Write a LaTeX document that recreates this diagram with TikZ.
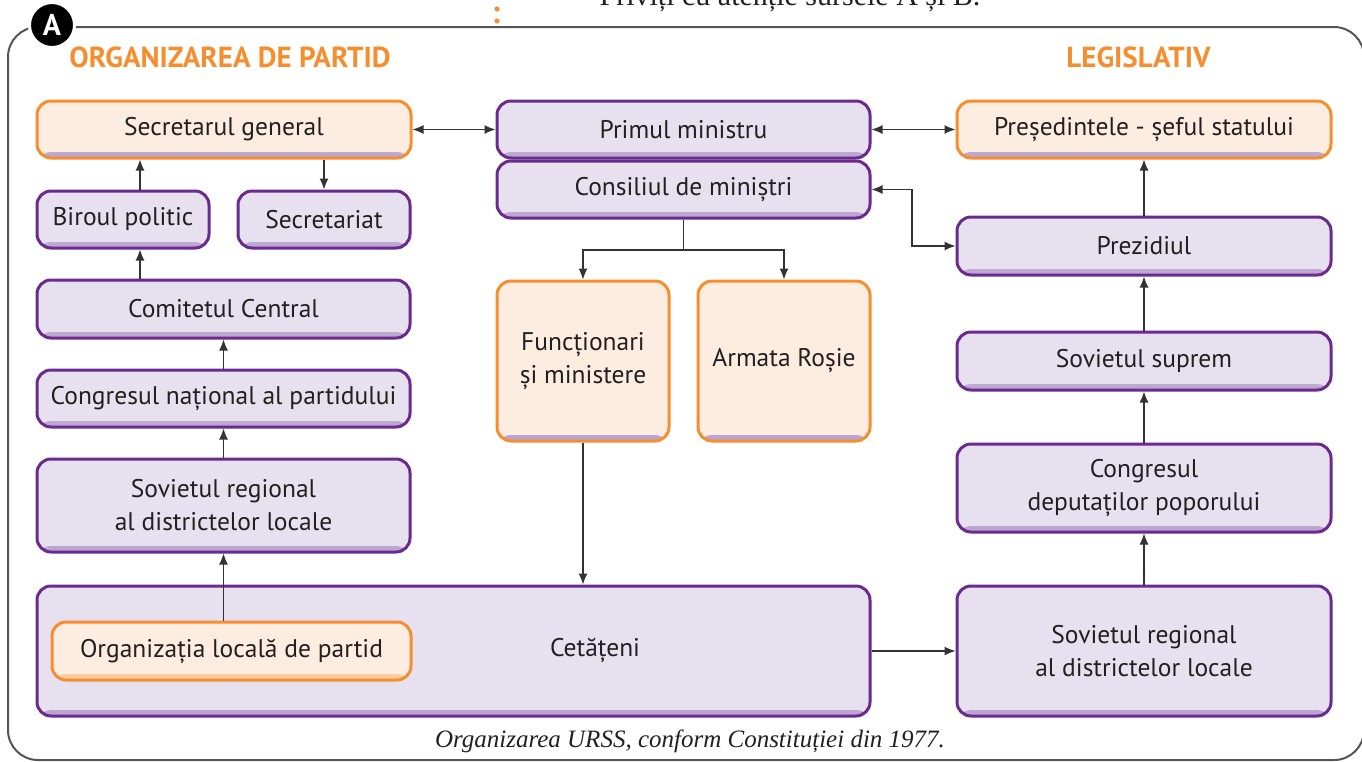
\documentclass[tikz,border=0pt]{standalone}
\usepackage{fontspec}
\setmainfont{PT Sans}
\newfontfamily\capfont{Liberation Serif}
\usetikzlibrary{arrows.meta}
\definecolor{pur}{HTML}{6A2A8E}
\definecolor{purfill}{HTML}{E7E1EF}
\definecolor{org}{HTML}{F68E2F}
\definecolor{orgfill}{HTML}{FDEDE1}
\definecolor{band}{HTML}{B9A2CF}
\definecolor{orgband}{HTML}{FBC79A}
\definecolor{txt}{HTML}{231F20}
\definecolor{lin}{HTML}{333333}
\definecolor{frm}{HTML}{555555}
\tikzset{
  bandpic/.style={path picture={\shade[top color=#1!20, bottom color=#1] ([yshift=6pt]path picture bounding box.south west) rectangle (path picture bounding box.south east);}},
  boxbase/.style={rounded corners=14pt, line width=3pt, inner sep=0pt, align=center, text=txt, font=\fontsize{25.5}{33}\selectfont},
  pbox/.style={boxbase, draw=pur, fill=purfill, bandpic=band},
  obox/.style={boxbase, draw=org, fill=orgfill, bandpic=band},
  obox2/.style={boxbase, draw=org, fill=orgfill, bandpic=orgband},
  hdr/.style={text=org, font=\fontsize{29}{32}\selectfont\bfseries},
  arr/.style={draw=lin, line width=1.2pt, -{Latex[length=11pt,width=9pt]}},
  arrb/.style={draw=lin, line width=1.2pt, {Latex[length=11pt,width=9pt]}-{Latex[length=11pt,width=9pt]}},
  ln/.style={draw=lin, line width=1.2pt},
}
\begin{document}
\begin{tikzpicture}[x=1pt,y=-1pt]
\useasboundingbox (0,0) rectangle (1362,761);
\clip (0,0) rectangle (1362,761);
% frame
\draw[frm, line width=2pt, rounded corners=30pt] (8,27) rectangle (1364,760);
\node[circle, fill=black, draw=white, line width=3pt, minimum size=45pt, inner sep=0pt, text=white, font=\fontsize{30}{32}\selectfont\bfseries] (lblA) at (52,25) {A};
\fill[org] (497,9) circle (2.6pt) (497,21) circle (2.6pt);
\node[anchor=base, text=txt, font=\capfont\fontsize{30}{32}\selectfont] (instr) at (790,5) {Priviți cu atenție sursele A și B.};
% headers
\node[hdr] (h1) at (230,57) {ORGANIZAREA DE PARTID};
\node[hdr] (h2) at (1138.5,57) {LEGISLATIV};
% left column
\node[obox, minimum width=374pt, minimum height=57pt] (secg) at (224,129.5) {Secretarul general};
\node[pbox, minimum width=172pt, minimum height=57pt] (biro) at (123,219.5) {Biroul politic};
\node[pbox, minimum width=172pt, minimum height=57pt] (sect) at (324,219.5) {Secretariat};
\node[pbox, minimum width=373pt, minimum height=58pt] (comc) at (223.5,309) {Comitetul Central};
\node[pbox, minimum width=373pt, minimum height=57pt] (cong) at (223.5,398.5) {Congresul național al partidului};
\node[pbox, minimum width=373pt, minimum height=93pt] (sovl) at (223.5,505.5) {Sovietul regional\\al districtelor locale};
\node[pbox, minimum width=833pt, minimum height=130pt] (cet) at (453.5,651) {};
\node[text=txt, font=\fontsize{25.5}{33}\selectfont] (cett) at (595,650) {Cetățeni};
\node[obox2, minimum width=359pt, minimum height=58pt] (orgl) at (231.5,651) {Organizația locală de partid};
% middle
\node[pbox, minimum width=373pt, minimum height=57pt] (prim) at (683.5,129.5) {Primul ministru};
\node[pbox, minimum width=373pt, minimum height=57pt] (cons) at (683.5,189.5) {Consiliul de miniștri};
\node[obox, minimum width=172pt, minimum height=160pt] (func) at (583,361) {Funcționari\\și ministere};
\node[obox, minimum width=172pt, minimum height=160pt] (arm) at (784,361) {Armata Roșie};
% right column
\node[obox, minimum width=374pt, minimum height=57pt] (pres) at (1144,129.5) {Președintele - șeful statului};
\node[pbox, minimum width=374pt, minimum height=58pt] (prez) at (1144,246) {Prezidiul};
\node[pbox, minimum width=374pt, minimum height=58pt] (sovs) at (1144,361) {Sovietul suprem};
\node[pbox, minimum width=374pt, minimum height=88pt] (cdp) at (1144,488) {Congresul\\deputaților poporului};
\node[pbox, minimum width=374pt, minimum height=130pt] (sovr) at (1144,651) {Sovietul regional\\al districtelor locale};
% helper coordinates
\coordinate (x140) at (140,0);
\coordinate (x912) at (912,0);
\coordinate (ysplit) at (0,250);
% connectors
\draw[arrb] (secg.east) -- (prim.west);
\draw[arrb] (prim.east) -- (pres.west);
\draw[arr] (biro.north -| x140) -- (secg.south -| x140);
\draw[arr] (secg.south -| sect.north) -- (sect.north);
\draw[arr] (comc.north -| x140) -- (biro.south -| x140);
\draw[arr] (cong.north) -- (comc.south);
\draw[arr] (sovl.north) -- (cong.south);
\draw[arr] (orgl.north -| sovl.south) -- (sovl.south);
\draw[ln] (cons.south) -- (cons.south |- ysplit);
\draw[arr] (cons.south |- ysplit) -| (func.north);
\draw[arr] (cons.south |- ysplit) -| (arm.north);
\draw[arr] (func.south) -- (func.south |- cet.north);
\draw[arrb] (cons.east) -| (x912 |- prez.west) -- (prez.west);
\draw[arr] (prez.north) -- (pres.south);
\draw[arr] (sovs.north) -- (prez.south);
\draw[arr] (cdp.north) -- (sovs.south);
\draw[arr] (sovr.north) -- (cdp.south);
\draw[arr] (cet.east |- sovr.west) -- (sovr.west);
% caption
\node[text=txt, font=\capfont\itshape\fontsize{25}{28}\selectfont] (cap) at (690,741) {Organizarea URSS, conform Constituției din 1977.};
\end{tikzpicture}
\end{document}
